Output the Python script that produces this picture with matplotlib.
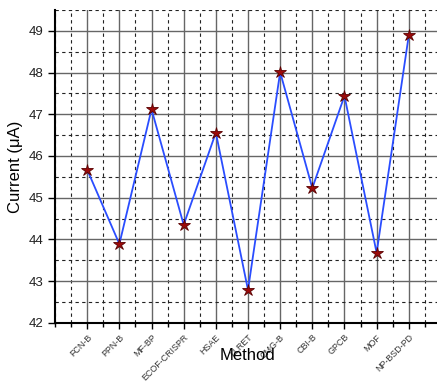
import matplotlib
matplotlib.use("Agg")
import matplotlib.pyplot as plt
from matplotlib.ticker import MultipleLocator

plt.rcParams['font.family'] = ['Liberation Sans', 'DejaVu Sans']

methods = ["FCN-B", "PPN-B", "MF-BP", "ECOF-CRISPR", "HSAE", "LLRET",
           "CMG-B", "CBI-B", "GPCB", "MOF", "NP-BSD-PD"]
current = [45.67, 43.89, 47.12, 44.35, 46.56, 42.79,
           48.01, 45.23, 47.44, 43.68, 48.89]

fig = plt.figure(figsize=(4.37, 3.83), dpi=100)
ax = fig.add_axes([0.126, 0.157, 0.883, 0.817])

x = list(range(1, len(methods) + 1))
ax.plot(x, current, color="#2a4dff", lw=1.3, zorder=3)
ax.plot(x, current, ls="none", marker="*", ms=9, mfc="#9b0a0a",
        mec="#5a0000", mew=0.6, zorder=4)

ax.set_xlim(0, 12)
ax.set_ylim(42, 49.5)
ax.xaxis.set_major_locator(MultipleLocator(1))
ax.xaxis.set_minor_locator(MultipleLocator(0.5))
ax.yaxis.set_major_locator(MultipleLocator(1))
ax.yaxis.set_minor_locator(MultipleLocator(0.5))

ax.set_xticks(x)
ax.set_xticklabels(methods, rotation=45, ha="right", rotation_mode="anchor",
                   fontsize=6.4, color="#333333")
ax.tick_params(axis="x", which="major", direction="out", length=4, width=1,
               pad=3)
ax.tick_params(axis="x", which="minor", direction="out", length=3, width=1)
ax.tick_params(axis="y", which="major", direction="out", length=5, width=1,
               labelsize=9.5, labelcolor="#222222")
ax.tick_params(axis="y", which="minor", length=0)

ax.grid(True, which="major", color="#666666", lw=1.0, ls="-", zorder=1)
ax.grid(True, which="minor", color="#222222", lw=0.8, ls=(0, (3, 3)), zorder=1)
ax.set_axisbelow(True)

for side in ("top", "right"):
    ax.spines[side].set_visible(False)
for side in ("left", "bottom"):
    ax.spines[side].set_linewidth(1.5)

ax.set_ylabel("Current (μA)", fontsize=12)
ax.set_xlabel("Method", fontsize=12, labelpad=-25)

fig.savefig("out.png", dpi=100)
